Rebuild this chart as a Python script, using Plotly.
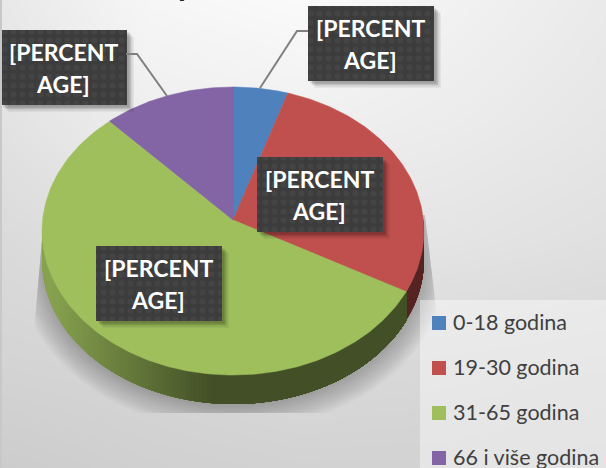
import numpy as np
import plotly.graph_objects as go

# ---- data ----
categories = ["0-18 godina", "19-30 godina", "31-65 godina", "66 i više godina"]
shares = [5, 28, 55, 12]
colors = ["#4f81bd", "#c0504d", "#9fbf5d", "#8364a5"]
label_text = ["[PERCENT", "AGE]"]

# background grey levels on a coarse grid (estimated)
bg_x = [0, 150, 300, 450, 606]
bg_y = [0, 120, 240, 360, 468]
bg_levels = [
    [232, 246, 250, 242, 234],
    [226, 238, 240, 236, 230],
    [218, 226, 230, 228, 224],
    [212, 214, 218, 216, 214],
    [204, 208, 210, 210, 208],
]

# ---- pie geometry (screen pixels) ----
W, H = 606, 468
APEX_X, APEX_Y = 233, 220
A, B, K = 190.4, 143.2, 0.0765
DEPTH = 29


def project(theta_deg):
    t = np.radians(theta_deg)
    X, Y = np.sin(t), np.cos(t)
    w = 1 + K * Y
    return APEX_X + A * X / w, APEX_Y - B * Y / w


def shade(hex_color, f):
    r, g, b = (int(hex_color[i:i + 2], 16) for i in (1, 3, 5))
    return f"rgb({r * f:.0f},{g * f:.0f},{b * f:.0f})"


fig = go.Figure()

# background
fig.add_trace(go.Heatmap(
    x=bg_x, y=bg_y, z=bg_levels, zmin=0, zmax=255, zsmooth="best",
    colorscale=[[0, "#000"], [1, "#fff"]], showscale=False, hoverinfo="skip"))

# soft shadow under the pie
th = np.linspace(0, 360, 181)
for r in np.linspace(24, 0, 13):
    t = np.radians(th)
    sx = 233 + (191 + r) * np.sin(t)
    sy = 262 + (144 + r) * np.cos(t)
    sy = np.clip(sy, 215, 413)
    left = 45 - (sy - 205) * 10 / 115
    right = 425 + (sy - 215) * 10 / 85
    sx = np.minimum(np.maximum(sx, left), np.maximum(right, 425))
    fig.add_trace(go.Scatter(x=sx, y=sy, mode="lines", fill="toself", line_width=0,
                             fillcolor="rgba(60,60,60,0.032)", hoverinfo="skip", showlegend=False))

# slice boundaries from the values
edges = np.concatenate([[0], np.cumsum(shares)]) * 3.6

# side wall, front half only; strips overlap so no seams show
for i, c in enumerate(colors):
    a0, a1 = max(edges[i], 90), min(edges[i + 1], 270)
    if a1 <= a0:
        continue
    steps = np.linspace(a1, a0, max(2, int((a1 - a0) / 1.2) + 1))
    for s0, s1 in zip(steps[:-1], steps[1:]):
        tt = np.linspace(a0, s0, 24)
        px, py = project(tt)
        xs = np.concatenate([px, px[::-1]])
        ys = np.concatenate([py, py[::-1] + DEPTH])
        xm = project(np.array([(s0 + s1) / 2]))[0][0]
        if categories[i].startswith("19"):
            f = 0.45
        else:
            f = 0.42 + 0.43 * np.clip((210 - xm) / 160, 0, 1)
        col = shade(c, f)
        fig.add_trace(go.Scatter(x=xs, y=ys, mode="lines", fill="toself", fillcolor=col,
                                 line=dict(color=col, width=0), hoverinfo="skip", showlegend=False))

# top face
for i, c in enumerate(colors):
    tt = np.linspace(edges[i], edges[i + 1], max(3, int(shares[i] * 3.6)))
    px, py = project(tt)
    fig.add_trace(go.Scatter(
        x=np.concatenate([[APEX_X], px, [APEX_X]]), y=np.concatenate([[APEX_Y], py, [APEX_Y]]),
        mode="lines", fill="toself", fillcolor=c, line=dict(color=c, width=0.5),
        name=categories[i], hoverinfo="name", showlegend=False))

shapes = [
    dict(type="line", x0=1, x1=1, y0=0, y1=H, line=dict(color="#c8c8c8", width=2), layer="above"),
    dict(type="path", path="M308,31 L297,31 L260,88", line=dict(color="#808080", width=2), layer="above"),
    dict(type="path", path="M126,54 L137,54 L167,96", line=dict(color="#808080", width=2), layer="above"),
]

# legend panel, drawn under the legend rows
fig.add_trace(go.Scatter(x=[420, W, W, 420, 420], y=[300, 300, H, H, 300], mode="lines", fill="toself",
                         line_width=0, fillcolor="rgba(255,255,255,0.42)", hoverinfo="skip", showlegend=False))
for i, name in enumerate(categories):
    ly = 323 + 45 * i
    fig.add_trace(go.Scatter(x=[439], y=[ly], mode="markers", name=name, showlegend=False,
                             marker=dict(symbol="square", size=14, color=colors[i]), hoverinfo="name"))
    fig.add_annotation(x=451, y=ly - 1.5, xanchor="left", yanchor="middle", text=name, showarrow=False,
                       font=dict(family="Lato", size=21.5, color="#404040"))

# data label boxes
boxes = [(308, 6), (1, 30), (257, 157), (96, 246)]
BW, BH = 126, 75
for bx, by in boxes:
    for o, a in ((7, 0.05), (5.5, 0.07), (4, 0.1), (2.5, 0.14)):
        fig.add_trace(go.Scatter(
            x=[bx + o, bx + BW + o, bx + BW + o, bx + o, bx + o],
            y=[by + o, by + o, by + BH + o, by + BH + o, by + o], mode="lines", fill="toself",
            line_width=0, fillcolor=f"rgba(0,0,0,{a})", hoverinfo="skip", showlegend=False))
    fig.add_trace(go.Scatter(
        x=[bx, bx + BW, bx + BW, bx, bx], y=[by, by, by + BH, by + BH, by], mode="lines", fill="toself",
        line_width=0, fillcolor="#3d3d3d", hoverinfo="skip", showlegend=False,
        fillpattern=dict(shape=".", bgcolor="#3c3c3c", fgcolor="#4b4b4b", size=9, solidity=0.35)))
    for j, line in enumerate(label_text):
        fig.add_annotation(x=bx + BW / 2 - 1, y=by + 21.5 + 32 * j, text=line, showarrow=False,
                           xanchor="center", yanchor="middle",
                           font=dict(family="Lato", size=23, color="white", weight="bold"))

# the clipped title: only a descender remains in view
fig.add_annotation(x=187, y=5, text="p", showarrow=False, xanchor="center", yanchor="bottom",
                   font=dict(family="Lato", size=32, color="#262626", weight="bold"))

fig.update_layout(
    width=W, height=H, margin=dict(l=0, r=0, t=0, b=0), showlegend=False,
    paper_bgcolor="#e4e4e4", plot_bgcolor="#e4e4e4", shapes=shapes,
    xaxis=dict(range=[0, W], visible=False, fixedrange=True),
    yaxis=dict(range=[H, 0], visible=False, fixedrange=True),
)
fig.write_html("out.html", config=dict(displayModeBar=False),
               post_script="document.body.style.margin='0';document.documentElement.style.overflow='hidden';")
